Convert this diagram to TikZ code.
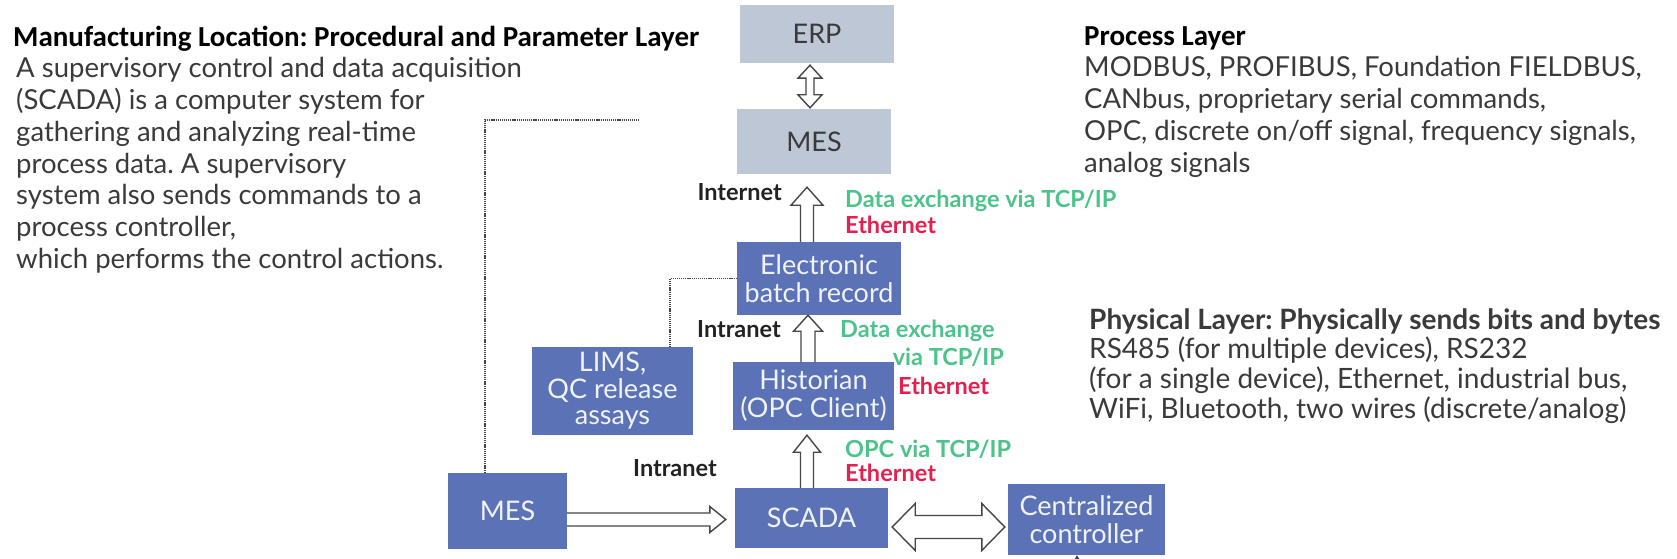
\documentclass[tikz,border=0pt]{standalone}
\usepackage{fontspec}
\setmainfont{Lato}
\newfontfamily\calib{Carlito}
\usetikzlibrary{calc,arrows.meta}
\frenchspacing
\definecolor{boxgray}{RGB}{189,199,214}
\definecolor{boxblue}{RGB}{91,115,182}
\definecolor{txtdark}{RGB}{58,58,58}
\definecolor{lbldark}{RGB}{34,34,34}
\definecolor{lblgreen}{RGB}{76,195,138}
\definecolor{lblred}{RGB}{229,32,79}
\definecolor{arrowgray}{RGB}{70,70,70}
\definecolor{boxtxt}{RGB}{240,242,248}
\tikzset{
  gbox/.style={fill=boxgray, text=txtdark, inner sep=0pt, align=center, font=\fontsize{27}{29}\selectfont},
  bbox/.style={fill=boxblue, text=boxtxt, inner sep=0pt, align=center, font=\fontsize{27}{28}\selectfont},
  harrow/.style={draw=arrowgray, fill=white, line width=1.4pt, line join=miter},
  dotline/.style={draw=arrowgray, line width=1.5pt, dash pattern=on 1.2pt off 0.9pt},
  body/.style={anchor=base west, inner sep=0pt, text=txtdark, font=\fontsize{27.5}{30}\selectfont},
  phys/.style={anchor=base west, inner sep=0pt, text=txtdark, font=\fontsize{28}{30}\selectfont},
  ttl/.style={anchor=base west, inner sep=0pt, text=black, font=\calib\bfseries\fontsize{29}{32}\selectfont},
  lbl/.style={inner sep=0pt, font=\bfseries\fontsize{23.5}{26}\selectfont},
}
\newcommand{\singlearrow}[5]{%
  \coordinate (tmpH) at ($(#2)!#5!(#1)$);
  \path[harrow] ($(#1)!#3!90:(#2)$) -- ($(tmpH)!#3!-90:(#1)$) -- ($(tmpH)!#4!-90:(#1)$) -- (#2)
     -- ($(tmpH)!#4!90:(#1)$) -- ($(tmpH)!#3!90:(#1)$) -- ($(#1)!#3!-90:(#2)$);}
\newcommand{\doublearrow}[5]{%
  \coordinate (tmpHa) at ($(#1)!#5!(#2)$);
  \coordinate (tmpHb) at ($(#2)!#5!(#1)$);
  \path[harrow] (#1) -- ($(tmpHa)!#4!90:(#2)$) -- ($(tmpHa)!#3!90:(#2)$) -- ($(tmpHb)!#3!-90:(#1)$)
     -- ($(tmpHb)!#4!-90:(#1)$) -- (#2) -- ($(tmpHb)!#4!90:(#1)$) -- ($(tmpHb)!#3!90:(#1)$)
     -- ($(tmpHa)!#3!-90:(#2)$) -- ($(tmpHa)!#4!-90:(#2)$) -- cycle;}
\begin{document}
\begin{tikzpicture}[x=1pt,y=-1pt]
\useasboundingbox[fill=white] (0,0) rectangle (1677,559);

% boxes
\node[gbox, minimum width=154pt, minimum height=58pt] (erp) at (817,34) {ERP};
\node[gbox, minimum width=154pt, minimum height=65pt] (mes1) at (814,141.5) {MES};
\node[bbox, minimum width=164pt, minimum height=73pt] (ebr) at (819,278.5) {Electronic\\batch record};
\node[bbox, minimum width=161pt, minimum height=88pt, font=\fontsize{27}{26.5}\selectfont] (lims) at (612.5,391) {LIMS,\\QC release\\assays};
\node[bbox, minimum width=161pt, minimum height=68pt] (hist) at (813.5,396) {Historian\\(OPC Client)};
\node[bbox, minimum width=119pt, minimum height=76pt] (mes2) at (507.5,511) {MES};
\node[bbox, minimum width=153pt, minimum height=60pt] (scada) at (811.5,518) {SCADA};
\node[bbox, minimum width=157pt, minimum height=71pt] (ctrl) at (1086.5,519.5) {Centralized\\controller};

% arrows
\coordinate (a1s) at ($(erp.south)+(-7,2)$);
\coordinate (a1e) at ($(mes1.north)+(-4,-1)$);
\doublearrow{a1s}{a1e}{4pt}{12pt}{13pt}
\coordinate (a2s) at ($(ebr.north)+(-12,0)$);
\coordinate (a2e) at ($(mes1.south)+(-7,13)$);
\singlearrow{a2s}{a2e}{6.5pt}{16pt}{18pt}
\coordinate (a3s) at ($(hist.north)+(-5.5,0)$);
\coordinate (a3e) at ($(ebr.south)+(-11,0)$);
\singlearrow{a3s}{a3e}{7pt}{14.5pt}{16pt}
\coordinate (a4s) at ($(scada.north)+(-4.5,0)$);
\coordinate (a4e) at ($(hist.south)+(-6.5,5)$);
\singlearrow{a4s}{a4e}{6.5pt}{13.5pt}{17pt}
\coordinate (a5s) at ($(mes2.east)+(0,8.5)$);
\coordinate (a5e) at ($(scada.west)+(-9,1.5)$);
\singlearrow{a5s}{a5e}{6.5pt}{13pt}{16pt}
\coordinate (a6s) at ($(scada.east)+(4,9)$);
\coordinate (a6e) at ($(ctrl.west)+(-3,7.5)$);
\doublearrow{a6s}{a6e}{11.5pt}{23.5pt}{23pt}

% dotted connectors
\coordinate (d1) at (639,120);
\draw[dotline] ($(mes2.north)+(-22.5,0)$) |- (d1);
\draw[dotline] (ebr.west) -| ($(lims.north)+(57.5,0)$);

% small connector under controller
\coordinate (t1) at ($(ctrl.south)+(-9.5,14)$);
\draw[arrowgray, line width=1.4pt, -{Stealth[length=5pt,width=6pt]}] (t1) -- (ctrl.south -| t1);

% labels
\node[lbl, anchor=base east, text=lbldark] (inet) at (782,200) {Internet};
\node[lbl, anchor=base west, text=lblgreen] (dx1) at (845,207) {Data exchange via TCP/IP};
\node[lbl, anchor=base west, text=lblred] (eth1) at (845,233) {Ethernet};
\node[lbl, anchor=base east, text=lbldark] (intra1) at (781,337) {Intranet};
\node[lbl, anchor=base west, text=lblgreen] (dx2) at (840,337) {Data exchange};
\node[lbl, anchor=base east, text=lblgreen] (dx2b) at (1004,365) {via TCP/IP};
\node[lbl, anchor=base west, text=lblred] (eth2) at (898,394) {Ethernet};
\node[lbl, anchor=base west, text=lbldark] (intra2) at (633,476) {Intranet};
\node[lbl, anchor=base west, text=lblgreen] (opc) at (845,457) {OPC via TCP/IP};
\node[lbl, anchor=base west, text=lblred] (eth3) at (845,481) {Ethernet};

% left text
\node[ttl] (lt) at (13,47) {Manufacturing Location: Procedural and Parameter Layer};
\foreach \t [count=\i] in {{A supervisory control and data acquisition},{(SCADA) is a computer system for},{gathering and analyzing real-time},{process data. A supervisory},{system also sends commands to a},{process controller,},{which performs the control actions.}}
  \node[body, name=lb\i] at (16,{78+31.7*(\i-1)}) {\t};

% process layer
\node[ttl] (pt) at (1084,46) {Process Layer};
\foreach \t [count=\i] in {{MODBUS, PROFIBUS, Foundation FIELDBUS,},{CANbus, proprietary serial commands,},{OPC, discrete on/off signal, frequency signals,},{analog signals}}
  \node[body, name=pb\i] at (1084,{77+31.7*(\i-1)}) {\t};

% physical layer
\node[phys, font=\bfseries\fontsize{28}{30}\selectfont] (ph) at (1089,329) {Physical Layer: Physically sends bits and bytes};
\foreach \t [count=\i] in {{RS485 (for multiple devices), RS232},{(for a single device), Ethernet, industrial bus,},{WiFi, Bluetooth, two wires (discrete/analog)}}
  \node[phys, name=yb\i] at (1089,{358+30*(\i-1)}) {\t};
\end{tikzpicture}
\end{document}
